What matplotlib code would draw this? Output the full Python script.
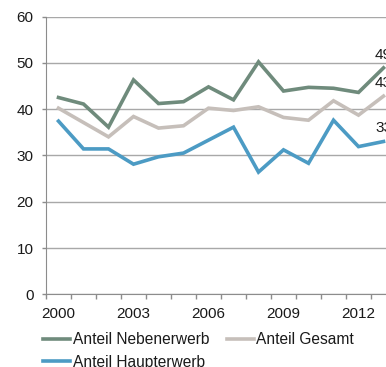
import matplotlib
matplotlib.use('Agg')
import matplotlib.pyplot as plt
import numpy as np

plt.rcParams['font.family'] = ['Liberation Sans', 'DejaVu Sans']

#====== data ======#
years = list(range(2000, 2014))
nebenerwerb = [42.5, 41.1, 36.1, 46.3, 41.2, 41.6, 44.8, 42.0, 50.2, 43.9, 44.7, 44.5, 43.6, 48.9]
gesamt = [40.2, 37.1, 34.0, 38.4, 35.9, 36.4, 40.2, 39.7, 40.5, 38.2, 37.6, 41.8, 38.7, 42.8]
haupterwerb = [37.4, 31.4, 31.4, 28.1, 29.7, 30.5, 33.3, 36.1, 26.4, 31.2, 28.3, 37.6, 31.9, 33.0]
end_labels = ['49', '43', '33']
tick_years = [2000, 2003, 2006, 2009, 2012]

GREEN = '#6f8b7c'
GREY = '#c6bfba'
BLUE = '#4c9bc4'
TXT = '#1a1a1a'

W, H = 386, 367
fig = plt.figure(figsize=(W/100, H/100), dpi=100)
# axes runs past the right edge, the original picture is cropped there
ax = fig.add_axes([46/W, 1 - 294.3/H, 350/W, (294.3 - 16.5)/H])

x = np.arange(len(years))
l_neben, = ax.plot(x, nebenerwerb, color=GREEN, lw=2.6, label='Anteil Nebenerwerb', solid_joinstyle='miter')
l_ges, = ax.plot(x, gesamt, color=GREY, lw=2.6, label='Anteil Gesamt', solid_joinstyle='miter')
l_haupt, = ax.plot(x, haupterwerb, color=BLUE, lw=2.6, label='Anteil Haupterwerb', solid_joinstyle='miter')

# labels on the last point
for series, lab in zip([nebenerwerb, gesamt, haupterwerb], end_labels):
    ax.annotate(lab, (x[-1], series[-1]), xytext=(0, 4.5), textcoords='offset points',
                ha='center', va='bottom', fontsize=11, color=TXT, annotation_clip=False)

ax.set_xlim(-0.5, len(years) - 0.5)
ax.set_ylim(0, 60)
ax.set_yticks(range(0, 61, 10))
ax.yaxis.grid(True, color='#a8a8a8', lw=1)
ax.set_axisbelow(True)

# ticks between categories, labels every 3 years
ax.set_xticks(np.arange(-0.5, len(years), 1.0))
ax.set_xticklabels([])
ax.set_xticks([years.index(y) for y in tick_years], minor=True)
ax.set_xticklabels([str(y) for y in tick_years], minor=True)
ax.tick_params(axis='x', which='major', length=3.3, width=1, color='#8c8c8c', direction='out')
ax.tick_params(axis='x', which='minor', length=0, pad=8.8, labelsize=11, labelcolor=TXT)
ax.tick_params(axis='y', length=3, width=1, color='#8c8c8c', pad=6, labelsize=11, labelcolor=TXT)

for s in ['top', 'right']:
    ax.spines[s].set_visible(False)
ax.spines['left'].set_color('#8c8c8c')
ax.spines['bottom'].set_color('#8c8c8c')

fig.legend(handles=[l_neben, l_haupt, l_ges], loc='upper left', ncol=2,
           bbox_to_anchor=(43/W, 1 - 332/H), frameon=False, fontsize=11.2,
           borderpad=0, borderaxespad=0, handlelength=1.75, handletextpad=0.15,
           columnspacing=1.15, labelspacing=0.5, labelcolor=TXT)

fig.savefig('out.png', dpi=100)
